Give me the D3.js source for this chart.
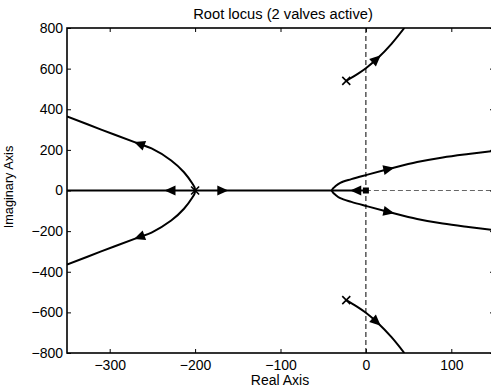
<!DOCTYPE html>
<html>
<head>
<meta charset="utf-8">
<script src="https://cdn.jsdelivr.net/npm/d3@7"></script>
<style>
  body { margin: 0; background: #fff; }
  svg { display: block; font-family: "Liberation Sans", Arial, sans-serif; }
</style>
</head>
<body>
<svg id="chart" width="491" height="392"></svg>
<script>
// axis ticks
const xTicks = [-300, -200, -100, 0, 100];
const yTicks = [-800, -600, -400, -200, 0, 200, 400, 600, 800];

// open-loop poles (x marks) and the cluster at the origin
const poles = [[-200, 0], [-23, 540], [-23, -540]];
const originMarks = [[0, 0]];

// locus branches
const realAxisBranch = [[-350, 0], [0, 0]];
const leftUpper = [[-200, 0], [-200.6, 15], [-203, 33], [-213, 90], [-228, 148], [-251, 207], [-267, 232], [-310, 300], [-350, 365]];
const leftLower = [[-200, 0], [-200.6, -15], [-203, -33], [-213, -90], [-228, -148], [-251, -207], [-267, -232], [-310, -300], [-350, -365]];
const rightUpper = [[-40, 0], [-38.5, 10], [-36, 20], [-30, 38], [-17, 56], [2, 78], [29, 108], [60, 140], [90, 163], [120, 180], [150, 195]];
const rightLower = [[-40, 0], [-38.5, -10], [-36, -20], [-30, -38], [-17, -56], [2, -78], [29, -108], [60, -140], [90, -163], [120, -180], [150, -195]];
const topBranch = [[-23, 540], [-10, 573], [0, 602], [14, 652], [30, 722], [45, 800]];
const bottomBranch = [[-23, -540], [-10, -573], [0, -602], [14, -652], [30, -722], [45, -800]];
const branches = [realAxisBranch, leftUpper, leftLower, rightUpper, rightLower, topBranch, bottomBranch];

// arrow heads: [tail x, tail y, tip x, tip y]
const arrows = [
  [-220, 0, -240, 0],
  [-177, 0, -157, 0],
  [-5, 0, -20, 0],
  [-258, 218, -274, 243],
  [-258, -218, -274, -243],
  [20, 100, 35, 113],
  [20, -100, 35, -113],
  [8, 630, 18, 668],
  [8, -630, 18, -668]
];

const svg = d3.select('#chart');
const margin = {top: 28, left: 67, bottom: 353, right: 494};
const font = '"Liberation Sans", Arial, sans-serif';

const x = d3.scaleLinear().domain([-350, 150]).range([margin.left, margin.right]);
const y = d3.scaleLinear().domain([-800, 800]).range([margin.bottom, margin.top]);

svg.append('defs').append('clipPath').attr('id', 'plot')
  .append('rect')
  .attr('x', x(-350)).attr('y', y(800))
  .attr('width', x(150) - x(-350)).attr('height', y(-800) - y(800));

const plot = svg.append('g').attr('clip-path', 'url(#plot)');

// dashed reference lines
plot.append('line')
  .attr('x1', x(0)).attr('x2', x(0))
  .attr('y1', y(800)).attr('y2', y(-800))
  .attr('stroke', '#000').attr('stroke-width', 1)
  .attr('stroke-dasharray', '5,3');
plot.append('line')
  .attr('x1', x(0)).attr('x2', x(150))
  .attr('y1', y(0)).attr('y2', y(0))
  .attr('stroke', '#666').attr('stroke-width', 1.2)
  .attr('stroke-dasharray', '5,3');

const line = d3.line()
  .x(d => x(d[0]))
  .y(d => y(d[1]))
  .curve(d3.curveCatmullRom.alpha(0.5));

plot.selectAll('path.branch')
  .data(branches)
  .enter().append('path')
  .attr('class', 'branch')
  .attr('d', line)
  .attr('fill', 'none')
  .attr('stroke', '#000')
  .attr('stroke-width', 2);

// arrow heads
plot.selectAll('path.arrow')
  .data(arrows)
  .enter().append('path')
  .attr('class', 'arrow')
  .attr('d', 'M5,0 L-6,-5 L-6,5 Z')
  .attr('fill', '#000')
  .attr('transform', d => {
    const a = Math.atan2(y(d[3]) - y(d[1]), x(d[2]) - x(d[0])) * 180 / Math.PI;
    return 'translate(' + x((d[0] + d[2]) / 2) + ',' + y((d[1] + d[3]) / 2) + ') rotate(' + a + ')';
  });

// pole markers
plot.selectAll('path.pole')
  .data(poles)
  .enter().append('path')
  .attr('class', 'pole')
  .attr('d', 'M-4,-4 L4,4 M-4,4 L4,-4')
  .attr('stroke', '#000')
  .attr('stroke-width', 1.6)
  .attr('transform', d => 'translate(' + x(d[0]) + ',' + y(d[1]) + ')');

plot.selectAll('rect.origin')
  .data(originMarks)
  .enter().append('rect')
  .attr('class', 'origin')
  .attr('x', d => x(d[0]) - 3)
  .attr('y', d => y(d[1]) - 3)
  .attr('width', 6).attr('height', 6)
  .attr('fill', '#000');

// axes
const tickFmt = d => d < 0 ? '\u2212' + Math.abs(d) : '' + d;
const axes = svg.append('g');

axes.append('g')
  .attr('transform', 'translate(0,' + y(-800) + ')')
  .call(d3.axisBottom(x).tickValues(xTicks).tickSize(-4).tickPadding(7).tickFormat(tickFmt))
  .call(g => g.select('.domain').remove());
axes.append('g')
  .attr('transform', 'translate(0,' + y(800) + ')')
  .call(d3.axisTop(x).tickValues(xTicks).tickSize(-4).tickFormat(''))
  .call(g => g.select('.domain').remove());
axes.append('g')
  .attr('transform', 'translate(' + x(-350) + ',0)')
  .call(d3.axisLeft(y).tickValues(yTicks).tickSize(-4).tickPadding(4).tickFormat(tickFmt))
  .call(g => g.select('.domain').remove());
axes.append('g')
  .attr('transform', 'translate(' + x(150) + ',0)')
  .call(d3.axisRight(y).tickValues(yTicks).tickSize(-4).tickFormat(''))
  .call(g => g.select('.domain').remove());

axes.selectAll('.tick line').attr('stroke', '#000').attr('stroke-width', 1);
axes.selectAll('.tick text').attr('fill', '#000').attr('font-size', 14)
  .attr('font-family', font);

svg.append('rect')
  .attr('x', x(-350)).attr('y', y(800))
  .attr('width', x(150) - x(-350)).attr('height', y(-800) - y(800))
  .attr('fill', 'none')
  .attr('stroke', '#000')
  .attr('stroke-width', 1.6);

// labels
svg.append('text')
  .attr('x', 283).attr('y', 19)
  .attr('text-anchor', 'middle')
  .attr('font-size', 14.7)
  .text('Root locus (2 valves active)');

svg.append('text')
  .attr('x', 280).attr('y', 385)
  .attr('text-anchor', 'middle')
  .attr('font-size', 14)
  .text('Real Axis');

svg.append('text')
  .attr('transform', 'translate(13,187) rotate(-90)')
  .attr('text-anchor', 'middle')
  .attr('font-size', 12.7)
  .text('Imaginary Axis');
</script>
</body>
</html>
